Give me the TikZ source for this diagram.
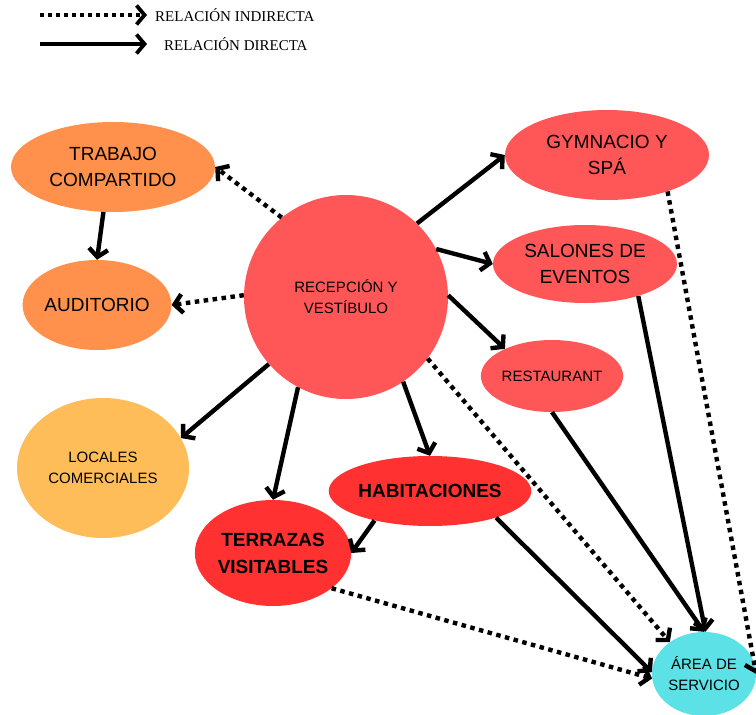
\documentclass[tikz,border=0pt]{standalone}
\usepackage{fontspec}
\setmainfont{Liberation Sans}
\newfontfamily\legendfont{Liberation Serif}
\usetikzlibrary{shapes.geometric,arrows.meta}
\definecolor{orangeA}{HTML}{FF914D}
\definecolor{yellowA}{HTML}{FFBD59}
\definecolor{redA}{HTML}{FF5757}
\definecolor{redB}{HTML}{FF3131}
\definecolor{cyanA}{HTML}{5CE1E6}
\tikzset{
  blob/.style={ellipse, inner sep=0pt, align=center, text=black},
  bigtxt/.style={font=\fontsize{19}{26}\selectfont},
  smalltxt/.style={font=\fontsize{15}{21}\selectfont},
  boldtxt/.style={font=\bfseries\fontsize{19}{27}\selectfont},
  direct/.style={line width=4.4pt, -{Straight Barb[length=8pt,width=19pt]}},
  indirect/.style={line width=4.4pt, dash pattern=on 4.5pt off 4.5pt, -{Straight Barb[length=8pt,width=19pt]}},
  legtxt/.style={anchor=west, inner sep=0pt, font=\legendfont\fontsize{15}{17}\selectfont}
}
\begin{document}
\begin{tikzpicture}[x=1pt,y=-1pt]
\useasboundingbox (0,0) rectangle (756,715);
\fill[white] (0,0) rectangle (756,715);
% legend
\coordinate (l1a) at (40,15);
\coordinate (l1b) at (147,15);
\coordinate (l2a) at (40,44);
\coordinate (l2b) at (147,44);
\draw[indirect, line width=3.8pt, dash pattern=on 4pt off 4pt] (l1a) -- (l1b);
\draw[direct, line width=3.8pt] (l2a) -- (l2b);
\node[legtxt] (leg1) at (155,15) {RELACIÓN INDIRECTA};
\node[legtxt] (leg2) at (164,44) {RELACIÓN DIRECTA};
% nodes
\node[circle, fill=redA, minimum size=204pt, inner sep=0pt, align=center, smalltxt] (rec) at (346,297) {RECEPCIÓN Y\\VESTÍBULO};
\node[blob, fill=orangeA, minimum width=204pt, minimum height=90pt, bigtxt] (trab) at (113,167) {TRABAJO\\COMPARTIDO};
\node[blob, fill=orangeA, minimum width=142pt, minimum height=90pt, bigtxt] (aud) at (97,305) {AUDITORIO};
\node[blob, fill=yellowA, minimum width=172pt, minimum height=140pt, smalltxt] (loc) at (103,468) {LOCALES\\COMERCIALES};
\node[blob, fill=redB, minimum width=154pt, minimum height=106pt, boldtxt] (terr) at (273,553) {TERRAZAS\\VISITABLES};
\node[blob, fill=redB, minimum width=196pt, minimum height=70pt, boldtxt] (hab) at (430,491) {HABITACIONES};
\node[blob, fill=redA, minimum width=204pt, minimum height=90pt, bigtxt] (gym) at (607,155) {GYMNACIO Y\\SPÁ};
\node[blob, fill=redA, minimum width=184pt, minimum height=78pt, bigtxt] (sal) at (585,264) {SALONES DE\\EVENTOS};
\node[blob, fill=redA, minimum width=140pt, minimum height=72pt, smalltxt] (rest) at (552,376) {RESTAURANT};
\node[blob, fill=cyanA, minimum width=104pt, minimum height=84pt, smalltxt] (area) at (704,674) {ÁREA DE\\SERVICIO};
% connectors
\draw[indirect] (rec.129.5) -- (trab.east);
\draw[indirect] (rec.179) -- (aud.east);
\draw[direct] (trab.258) -- (aud.north);
\draw[direct] (rec.46) -- (gym.west);
\draw[direct] (rec.28) -- (sal.west);
\draw[direct] (rec.1) -- (rest.150);
\draw[direct] (rec.221) -- (loc.21);
\draw[direct] (rec.242) -- (terr.north);
\draw[direct] (rec.-56) -- (hab.north);
\draw[direct] (hab.208) -- (terr.east);
\draw[indirect] (rec.-37) -- (area.137);
\draw[direct] (hab.-22) -- (area.178);
\draw[indirect] (terr.-31.5) -- (area.185);
\draw[direct] (rest.south) -- (area.north);
\draw[direct] (sal.-31.6) -- (area.88);
\draw[indirect] (gym.-31) -- (area.east);
\end{tikzpicture}
\end{document}
